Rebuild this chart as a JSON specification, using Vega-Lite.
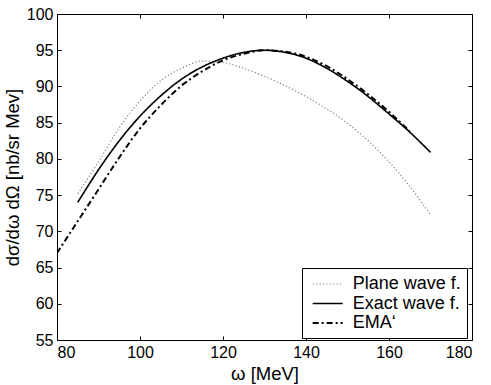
{
  "$schema": "https://vega.github.io/schema/vega-lite/v6.json",
  "width": 415,
  "height": 326,
  "autosize": "none",
  "padding": {"left": 57, "top": 14, "right": 19, "bottom": 45},
  "config": {
    "font": "Liberation Sans",
    "view": {"stroke": "black", "strokeWidth": 1},
    "axis": {"grid": false, "domain": false, "tickColor": "black", "labelColor": "black", "titleColor": "black", "labelFontSize": 16, "titleFontSize": 18.5, "titleFontWeight": "normal", "tickSize": -4, "labelPadding": 8}
  },
  "data": {"values": [
    {"w": 85, "v": 75.2, "s": "Plane wave f."},
    {"w": 90, "v": 79.6, "s": "Plane wave f."},
    {"w": 95, "v": 84.3, "s": "Plane wave f."},
    {"w": 100, "v": 88.0, "s": "Plane wave f."},
    {"w": 105, "v": 90.8, "s": "Plane wave f."},
    {"w": 110, "v": 92.5, "s": "Plane wave f."},
    {"w": 115, "v": 93.5, "s": "Plane wave f."},
    {"w": 120, "v": 93.3, "s": "Plane wave f."},
    {"w": 125, "v": 92.5, "s": "Plane wave f."},
    {"w": 130, "v": 91.4, "s": "Plane wave f."},
    {"w": 135, "v": 90.1, "s": "Plane wave f."},
    {"w": 140, "v": 88.6, "s": "Plane wave f."},
    {"w": 145, "v": 86.9, "s": "Plane wave f."},
    {"w": 150, "v": 84.9, "s": "Plane wave f."},
    {"w": 155, "v": 82.5, "s": "Plane wave f."},
    {"w": 160, "v": 79.6, "s": "Plane wave f."},
    {"w": 165, "v": 76.2, "s": "Plane wave f."},
    {"w": 170, "v": 72.3, "s": "Plane wave f."},
    {"w": 85, "v": 74.0, "s": "Exact wave f."},
    {"w": 90, "v": 78.5, "s": "Exact wave f."},
    {"w": 95, "v": 82.5, "s": "Exact wave f."},
    {"w": 100, "v": 85.9, "s": "Exact wave f."},
    {"w": 105, "v": 88.7, "s": "Exact wave f."},
    {"w": 110, "v": 91.0, "s": "Exact wave f."},
    {"w": 115, "v": 92.7, "s": "Exact wave f."},
    {"w": 120, "v": 93.9, "s": "Exact wave f."},
    {"w": 125, "v": 94.7, "s": "Exact wave f."},
    {"w": 130, "v": 95.0, "s": "Exact wave f."},
    {"w": 135, "v": 94.7, "s": "Exact wave f."},
    {"w": 140, "v": 93.9, "s": "Exact wave f."},
    {"w": 145, "v": 92.5, "s": "Exact wave f."},
    {"w": 150, "v": 90.7, "s": "Exact wave f."},
    {"w": 155, "v": 88.6, "s": "Exact wave f."},
    {"w": 160, "v": 86.2, "s": "Exact wave f."},
    {"w": 165, "v": 83.7, "s": "Exact wave f."},
    {"w": 170, "v": 80.9, "s": "Exact wave f."},
    {"w": 80, "v": 67.0, "s": "EMA‘"},
    {"w": 85, "v": 71.4, "s": "EMA‘"},
    {"w": 90, "v": 75.8, "s": "EMA‘"},
    {"w": 95, "v": 80.2, "s": "EMA‘"},
    {"w": 100, "v": 84.2, "s": "EMA‘"},
    {"w": 105, "v": 87.4, "s": "EMA‘"},
    {"w": 110, "v": 90.1, "s": "EMA‘"},
    {"w": 115, "v": 92.1, "s": "EMA‘"},
    {"w": 120, "v": 93.6, "s": "EMA‘"},
    {"w": 125, "v": 94.5, "s": "EMA‘"},
    {"w": 130, "v": 95.0, "s": "EMA‘"},
    {"w": 135, "v": 94.8, "s": "EMA‘"},
    {"w": 140, "v": 94.1, "s": "EMA‘"},
    {"w": 145, "v": 92.8, "s": "EMA‘"},
    {"w": 150, "v": 91.0, "s": "EMA‘"},
    {"w": 155, "v": 88.9, "s": "EMA‘"},
    {"w": 160, "v": 86.5, "s": "EMA‘"},
    {"w": 165, "v": 83.8, "s": "EMA‘"}
  ]},
  "resolve": {"axis": {"x": "independent", "y": "independent"}},
  "layer": [
    {
      "mark": {"type": "line", "interpolate": "monotone", "clip": true},
      "encoding": {
        "x": {"field": "w", "type": "quantitative", "scale": {"domain": [80, 180], "nice": false, "zero": false},
              "axis": {"orient": "bottom", "values": [80, 100, 120, 140, 160, 180], "title": "ω [MeV]", "titlePadding": 4}},
        "y": {"field": "v", "type": "quantitative", "scale": {"domain": [55, 100], "nice": false, "zero": false},
              "axis": {"orient": "left", "values": [55, 60, 65, 70, 75, 80, 85, 90, 95, 100], "title": "dσ/dω dΩ [nb/sr Mev]", "titlePadding": 4}},
        "detail": {"field": "s"},
        "stroke": {"field": "s", "type": "nominal",
                   "scale": {"domain": ["Plane wave f.", "Exact wave f.", "EMA‘"], "range": ["#808080", "black", "black"]},
                   "legend": {"orient": "none", "legendX": 245, "legendY": 254, "title": null, "symbolType": "M-1.67,0H1.67", "symbolSize": 324, "symbolOffset": 9.7, "symbolStrokeWidth": 2, "labelFontSize": 18, "labelColor": "black", "labelOffset": 15, "rowPadding": 0.5, "padding": 6, "strokeColor": "black", "fillColor": "white", "labelLimit": 200}},
        "strokeDash": {"field": "s", "type": "nominal",
                       "scale": {"domain": ["Plane wave f.", "Exact wave f.", "EMA‘"], "range": [[1.2, 2.2], [1, 0], [6, 3, 2, 3]]}},
        "strokeWidth": {"field": "s", "type": "nominal",
                        "scale": {"domain": ["Plane wave f.", "Exact wave f.", "EMA‘"], "range": [1.2, 2, 2]}}
      }
    },
    {
      "mark": {"type": "line", "opacity": 0},
      "encoding": {
        "x": {"field": "w", "type": "quantitative", "axis": {"orient": "top", "values": [80, 100, 120, 140, 160, 180], "labels": false, "title": null}},
        "y": {"field": "v", "type": "quantitative", "axis": {"orient": "right", "values": [55, 60, 65, 70, 75, 80, 85, 90, 95, 100], "labels": false, "title": null}},
        "detail": {"field": "s"}
      }
    }
  ]
}
